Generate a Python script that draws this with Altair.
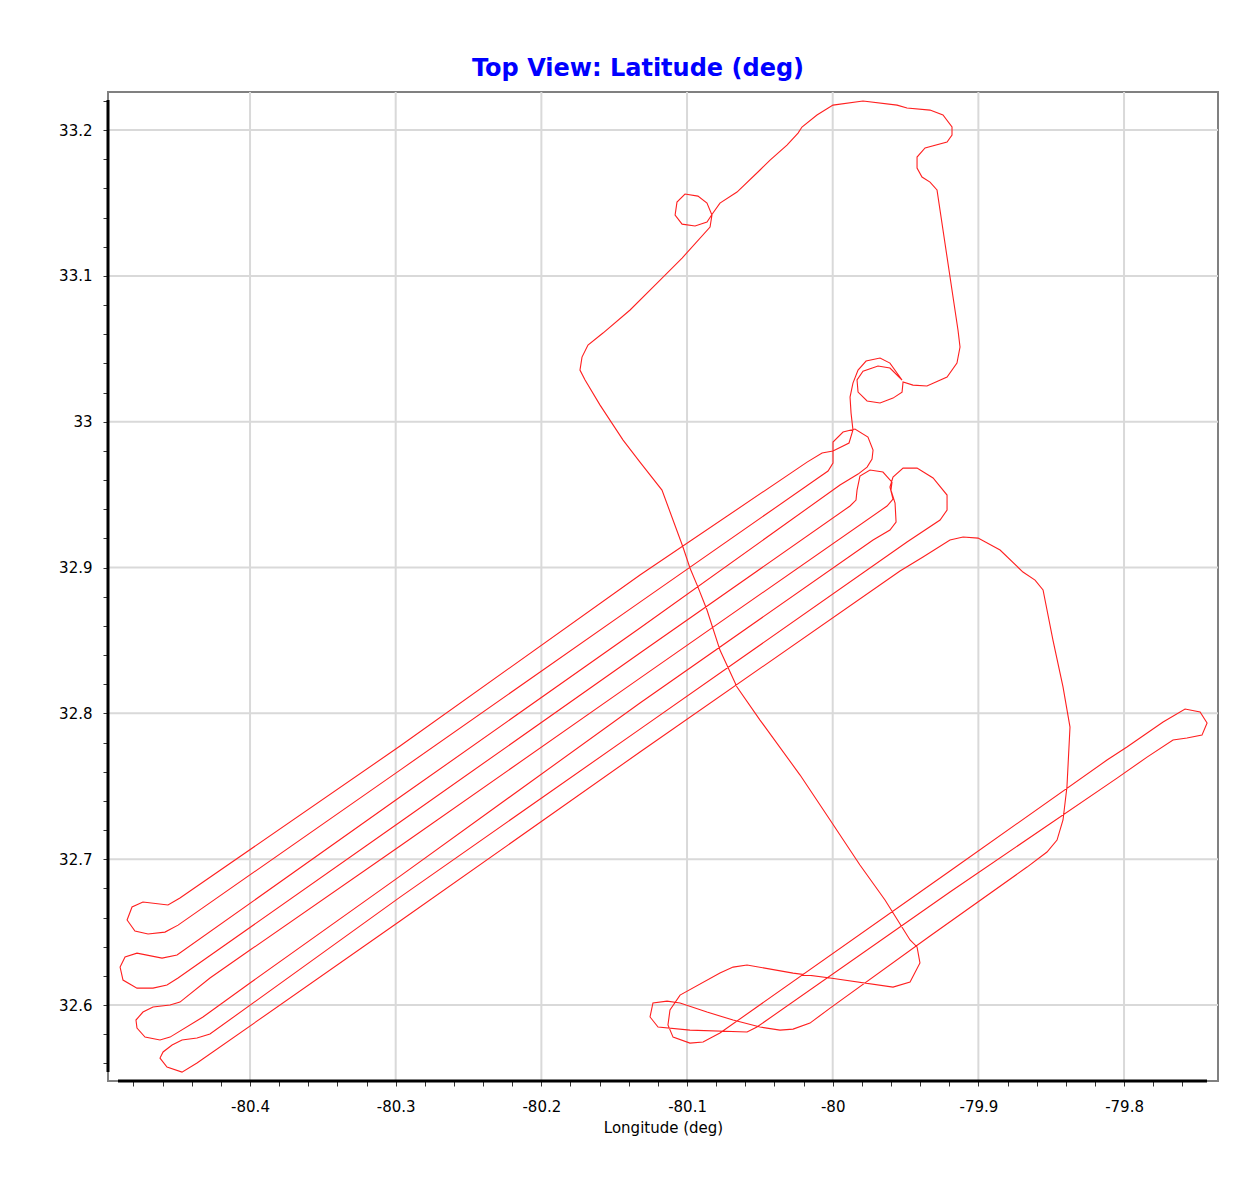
import altair as alt
import pandas as pd

# ---- flight path (lon, lat), in flight order ----
top_lon = [-80.0430, -80.0314, -80.0238, -80.0211, -80.0108, -79.9998, -79.9792, -79.9558, -79.9490, -79.9332,
           -79.9243, -79.9181, -79.9181, -79.9215, -79.9366, -79.9421, -79.9421, -79.9387, -79.9332, -79.9284,
           -79.9140, -79.9126, -79.9147, -79.9215, -79.9353, -79.9449, -79.9517, -79.9524, -79.9586, -79.9675,
           -79.9764, -79.9826, -79.9833, -79.9792, -79.9689, -79.9607, -79.9524, -79.9607, -79.9675, -79.9771,
           -79.9826, -79.9861, -79.9881, -79.9874, -79.9861, -79.9888, -79.9998, -80.0073, -80.0176]
top_lat = [33.1794, 33.1897, 33.1979, 33.2021, 33.2103, 33.2171, 33.2199, 33.2171, 33.2151, 33.2137,
           33.2103, 33.2021, 33.1966, 33.1918, 33.1877, 33.1815, 33.1739, 33.1678, 33.1643, 33.1589,
           33.0629, 33.0512, 33.0402, 33.0306, 33.0245, 33.0251, 33.0272, 33.0203, 33.0162, 33.0128,
           33.0142, 33.0203, 33.0286, 33.0347, 33.0382, 33.0368, 33.0286, 33.0402, 33.0437, 33.0416,
           33.0354, 33.0265, 33.0169, 33.0059, 32.9943, 32.9854, 32.9799, 32.9785, 32.9723]

survey_lon = [-80.1323, -80.2970, -80.4481, -80.4563, -80.4735, -80.4810, -80.4844, -80.4790, -80.4700, -80.4584,
              -80.4494, -80.2970, -80.1323, -80.0101, -80.0032, -79.9998, -79.9998, -79.9929, -79.9847, -79.9758,
              -79.9723, -79.9730, -79.9764, -79.9826, -79.9950, -80.1323, -80.2970, -80.4501, -80.4604, -80.4776,
              -80.4858, -80.4892, -80.4872, -80.4776, -80.4666, -80.4570, -80.4494, -80.2970, -80.1323, -79.9881,
              -79.9840, -79.9833, -79.9813, -79.9744, -79.9655, -79.9593, -79.9600, -79.9572, -79.9565, -79.9607,
              -79.9723, -80.1323, -80.2970, -80.4000, -80.4323, -80.4549, -80.4618, -80.4721, -80.4776, -80.4783,
              -80.4735, -80.4666, -80.4549, -80.4481, -80.4275, -80.4000, -80.2970, -80.1323, -79.9627, -79.9586,
              -79.9607, -79.9586, -79.9517, -79.9421, -79.9311, -79.9215, -79.9215, -79.9263, -79.9490, -80.1323,
              -80.2970, -80.4275, -80.4364, -80.4467, -80.4535, -80.4597, -80.4618, -80.4570, -80.4467, -80.4364,
              -80.2970, -80.1323]
survey_lat = [32.8949, 32.7776, 32.6734, 32.6686, 32.6706, 32.6672, 32.6583, 32.6507, 32.6487, 32.6500,
              32.6548, 32.7611, 32.8763, 32.9614, 32.9662, 32.9717, 32.9861, 32.9929, 32.9950, 32.9895,
              32.9806, 32.9744, 32.9689, 32.9641, 32.9566, 32.8585, 32.7426, 32.6343, 32.6322, 32.6356,
              32.6329, 32.6260, 32.6171, 32.6116, 32.6116, 32.6137, 32.6185, 32.7255, 32.8414, 32.9422,
              32.9463, 32.9531, 32.9627, 32.9669, 32.9655, 32.9586, 32.9531, 32.9442, 32.9312, 32.9257,
              32.9189, 32.8071, 32.6884, 32.6151, 32.5918, 32.5780, 32.5760, 32.5780, 32.5842, 32.5897,
              32.5952, 32.5986, 32.6000, 32.6020, 32.6185, 32.6377, 32.7090, 32.8242, 32.9422, 32.9470,
              32.9552, 32.9620, 32.9682, 32.9682, 32.9614, 32.9497, 32.9394, 32.9326, 32.9175, 32.7892,
              32.6740, 32.5801, 32.5774, 32.5760, 32.5726, 32.5678, 32.5636, 32.5575, 32.5540, 32.5602,
              32.6576, 32.7735]

east_lon = [-79.9538, -79.9380, -79.9195, -79.9105, -79.9002, -79.8851, -79.8694, -79.8611, -79.8556, -79.8488,
            -79.8419, -79.8371, -79.8392, -79.8419, -79.8460, -79.8529, -79.8666, -79.9332, -80.0018, -80.0156,
            -80.0272, -80.0362, -80.0499, -80.0684, -80.0863, -80.1048, -80.1137, -80.1234, -80.1254, -80.1199,
            -80.0980, -80.0588, -80.0520, -79.9195, -79.8048, -79.7842, -79.7664, -79.7568, -79.7465, -79.7430,
            -79.7478, -79.7581, -79.7732, -79.7980, -79.8117, -79.9195]
east_lat = [32.8976, 32.9072, 32.9189, 32.9209, 32.9202, 32.9120, 32.8969, 32.8914, 32.8846, 32.8503,
            32.8181, 32.7906, 32.7495, 32.7269, 32.7131, 32.7049, 32.6946, 32.6473, 32.5979, 32.5876,
            32.5835, 32.5828, 32.5849, 32.5897, 32.5952, 32.6014, 32.6027, 32.6014, 32.5918, 32.5849,
            32.5828, 32.5815, 32.5849, 32.6775, 32.7556, 32.7700, 32.7817, 32.7831, 32.7851, 32.7934,
            32.8009, 32.8030, 32.7941, 32.7769, 32.7680, 32.6919]

return_lon = [-80.0774, -80.0890, -80.0980, -80.1096, -80.1131, -80.1117, -80.1048, -80.0774, -80.0684, -80.0588,
              -80.0272, -80.0018, -79.9586, -79.9469, -79.9401, -79.9421, -79.9469, -79.9641, -79.9813, -80.0018,
              -80.0224, -80.0499, -80.0657, -80.0774, -80.0863, -80.0925, -80.0980, -80.1028, -80.1172, -80.1323,
              -80.1439, -80.1597, -80.1700, -80.1735, -80.1721, -80.1680, -80.1577, -80.1391, -80.1185, -80.1034,
              -80.0842, -80.0829, -80.0863, -80.0925, -80.1014, -80.1069, -80.1082, -80.1034, -80.0945, -80.0863,
              -80.0822, -80.0774, -80.0657, -80.0499, -80.0430, -80.0314]
return_lat = [32.5808, 32.5746, 32.5739, 32.5780, 32.5863, 32.5966, 32.6068, 32.6219, 32.6260, 32.6274,
              32.6219, 32.6185, 32.6123, 32.6158, 32.6288, 32.6398, 32.6446, 32.6720, 32.6960, 32.7269,
              32.7577, 32.7954, 32.8181, 32.8434, 32.8709, 32.8866, 32.8997, 32.9141, 32.9531, 32.9723,
              32.9874, 33.0114, 33.0286, 33.0354, 33.0443, 33.0526, 33.0608, 33.0766, 33.0971, 33.1122,
              33.1335, 33.1417, 33.1499, 33.1547, 33.1561, 33.1506, 33.1417, 33.1355, 33.1342, 33.1369,
              33.1431, 33.1499, 33.1575, 33.1726, 33.1794, 33.1897]

# ---- axes ----
x_domain = [-80.4975, -79.7355]
y_domain = [32.5479, 33.2261]
x_major = [-80.4, -80.3, -80.2, -80.1, -80.0, -79.9, -79.8]
y_major = [32.6, 32.7, 32.8, 32.9, 33.0, 33.1, 33.2]
x_ticks = [-80.48, -80.46, -80.44, -80.42, -80.40, -80.38, -80.36, -80.34, -80.32, -80.30,
           -80.28, -80.26, -80.24, -80.22, -80.20, -80.18, -80.16, -80.14, -80.12, -80.10,
           -80.08, -80.06, -80.04, -80.02, -80.00, -79.98, -79.96, -79.94, -79.92, -79.90,
           -79.88, -79.86, -79.84, -79.82, -79.80, -79.78, -79.76]
y_ticks = [32.56, 32.58, 32.60, 32.62, 32.64, 32.66, 32.68, 32.70, 32.72, 32.74,
           32.76, 32.78, 32.80, 32.82, 32.84, 32.86, 32.88, 32.90, 32.92, 32.94,
           32.96, 32.98, 33.00, 33.02, 33.04, 33.06, 33.08, 33.10, 33.12, 33.14,
           33.16, 33.18, 33.20, 33.22]

lon = top_lon + survey_lon + east_lon + return_lon
lat = top_lat + survey_lat + east_lat + return_lat
path_df = pd.DataFrame({"lon": lon, "lat": lat, "idx": list(range(len(lon)))})

FONT = "DejaVu Sans"
major_test = "abs(datum.value*10 - round(datum.value*10)) < 0.001"
label_expr = major_test + " ? (datum.value + '') : ''"

xs = alt.Scale(domain=x_domain, nice=False, zero=False)
ys = alt.Scale(domain=y_domain, nice=False, zero=False)

x_axis = alt.Axis(values=x_ticks, labelExpr=label_expr,
                  grid=False, domain=False, ticks=True, tickSize=5, tickColor="#333333", tickWidth=1,
                  labels=True, labelFont=FONT, labelFontSize=15, labelColor="#000000", labelPadding=13,
                  labelFlush=False, labelOverlap=False,
                  title="Longitude (deg)", titleFont=FONT, titleFontSize=15, titleFontWeight="normal",
                  titleColor="#000000", titlePadding=6)
y_axis = alt.Axis(values=y_ticks, labelExpr=label_expr,
                  grid=False, domain=False, ticks=True, tickSize=5, tickColor="#333333", tickWidth=1,
                  labels=True, labelFont=FONT, labelFontSize=15, labelColor="#000000", labelPadding=11,
                  labelFlush=False, labelOverlap=False, title="")

gx = alt.Chart(pd.DataFrame({"gx": x_major})).mark_rule(color="#d9d9d9", strokeWidth=2).encode(
    x=alt.X("gx:Q", scale=xs, axis=x_axis))
gy = alt.Chart(pd.DataFrame({"gy": y_major})).mark_rule(color="#d9d9d9", strokeWidth=2).encode(
    y=alt.Y("gy:Q", scale=ys, axis=y_axis))

path = alt.Chart(path_df).mark_line(color="#ff1f1f", strokeWidth=1.1).encode(
    x=alt.X("lon:Q", scale=xs, axis=x_axis),
    y=alt.Y("lat:Q", scale=ys, axis=y_axis),
    order=alt.Order("idx:Q"),
)

one = pd.DataFrame({"k": [0]})
left_line = alt.Chart(one).mark_rule(color="#000000", strokeWidth=3).encode(
    x=alt.value(0), y=alt.value(8), y2=alt.value(980))
bottom_line = alt.Chart(one).mark_rule(color="#000000", strokeWidth=3).encode(
    x=alt.value(10), x2=alt.value(1099), y=alt.value(989))

chart = alt.layer(gx, gy, path, left_line, bottom_line).properties(
    width=1110, height=989,
    title=alt.TitleParams("Top View: Latitude (deg)", color="#0000ff", font=FONT, fontSize=24,
                          fontWeight="bold", anchor="middle", dx=-25, offset=10),
    padding={"left": 100, "top": 84, "right": 26, "bottom": 86},
    autosize=alt.AutoSizeParams(type="none"),
).configure_view(stroke="#808080", strokeWidth=2)

chart.save("out.html", embed_options={"renderer": "svg", "actions": False})
